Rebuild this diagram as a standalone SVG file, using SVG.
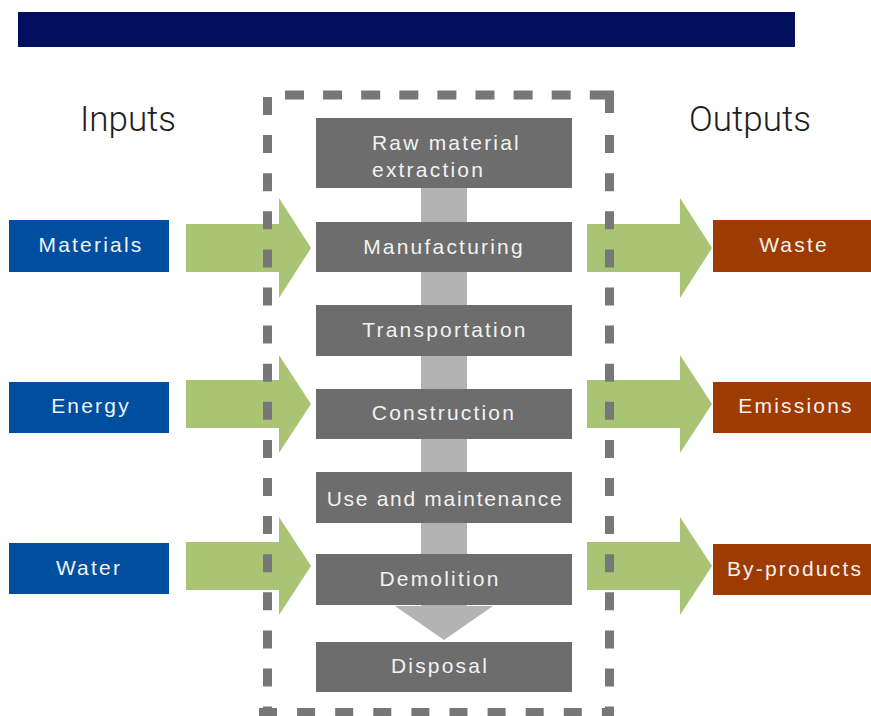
<svg xmlns="http://www.w3.org/2000/svg" width="871" height="716" viewBox="0 0 871 716">
  <style>
    .title { fill: #020F5E; }
    .heading { font-family: Roboto, "Liberation Sans", Arial, sans-serif; font-weight: 300; font-size: 35px; fill: #1E1E1E; text-anchor: middle; }
    .lbl { font-family: "Liberation Sans", Arial, sans-serif; font-size: 21px; fill: #F2F2F2; letter-spacing: 2.2px; text-anchor: middle; }
    .stage rect { fill: #6D6D6D; }
    .input rect { fill: #004E9F; }
    .output rect { fill: #9E3B00; }
    .flow { fill: #A8C474; }
    .spine { fill: #B3B3B3; }
    .frame { fill: none; stroke: #777777; stroke-width: 9; }
  </style>

  <rect class="title" x="18" y="12" width="777" height="35"/>

  <text class="heading" x="128" y="131">Inputs</text>
  <text class="heading" x="750" y="131">Outputs</text>

  <!-- lifecycle spine (behind stages) -->
  <g id="spine">
    <rect class="spine" x="421" y="186" width="46" height="422"/>
    <polygon class="spine" points="395,606 493,606 444,640"/>
  </g>

  <!-- connectors: input and output flow arrows -->
  <g id="connectors">
    <polygon class="flow" points="186,224 279,224 279,198 311,248 279,298 279,272 186,272"/>
    <polygon class="flow" points="186,380 279,380 279,355 311,404 279,453 279,428 186,428"/>
    <polygon class="flow" points="186,542 279,542 279,517 311,566 279,615 279,590 186,590"/>
    <polygon class="flow" points="587,224 680,224 680,198 712,248 680,298 680,272 587,272"/>
    <polygon class="flow" points="587,380 680,380 680,355 712,404 680,453 680,428 587,428"/>
    <polygon class="flow" points="587,542 680,542 680,517 712,566 680,615 680,590 587,590"/>
  </g>

  <!-- dashed system boundary (drawn over the flow arrows) -->
  <g id="boundary" class="frame">
    <line x1="285" y1="95" x2="590" y2="95" stroke-dasharray="19 19.1"/>
    <path d="M590,95 H609.5 V113" stroke-linejoin="miter"/>
    <line x1="267.5" y1="97" x2="267.5" y2="716" stroke-dasharray="18 20.1"/>
    <line x1="609.5" y1="135.1" x2="609.5" y2="716" stroke-dasharray="18 20.1"/>
    <line x1="259" y1="712.5" x2="614" y2="712.5" stroke-dasharray="18 20.1"/>
  </g>

  <!-- stages -->
  <g id="raw-material" class="stage">
    <rect x="316" y="118" width="256" height="70"/>
    <text class="lbl" x="372" y="150" style="text-anchor:start">Raw material</text>
    <text class="lbl" x="372" y="177" style="text-anchor:start">extraction</text>
  </g>
  <g id="manufacturing" class="stage">
    <rect x="316" y="222" width="256" height="50"/>
    <text class="lbl" x="444" y="254">Manufacturing</text>
  </g>
  <g id="transportation" class="stage">
    <rect x="316" y="305" width="256" height="51"/>
    <text class="lbl" x="445" y="337">Transportation</text>
  </g>
  <g id="construction" class="stage">
    <rect x="316" y="389" width="256" height="50"/>
    <text class="lbl" x="444" y="420">Construction</text>
  </g>
  <g id="use-maintenance" class="stage">
    <rect x="316" y="472" width="256" height="51"/>
    <text class="lbl" x="445" y="506" style="letter-spacing:1.7px">Use and maintenance</text>
  </g>
  <g id="demolition" class="stage">
    <rect x="316" y="554" width="256" height="51"/>
    <text class="lbl" x="440" y="586">Demolition</text>
  </g>
  <g id="disposal" class="stage">
    <rect x="316" y="642" width="256" height="50"/>
    <text class="lbl" x="440" y="673">Disposal</text>
  </g>

  <!-- inputs -->
  <g id="materials" class="input">
    <rect x="9" y="220" width="160" height="52"/>
    <text class="lbl" x="91" y="252">Materials</text>
  </g>
  <g id="energy" class="input">
    <rect x="9" y="382" width="160" height="51"/>
    <text class="lbl" x="91" y="413">Energy</text>
  </g>
  <g id="water" class="input">
    <rect x="9" y="543" width="160" height="51"/>
    <text class="lbl" x="89" y="575">Water</text>
  </g>

  <!-- outputs -->
  <g id="waste" class="output">
    <rect x="713" y="220" width="160" height="52"/>
    <text class="lbl" x="794" y="252">Waste</text>
  </g>
  <g id="emissions" class="output">
    <rect x="713" y="382" width="160" height="51"/>
    <text class="lbl" x="796" y="413">Emissions</text>
  </g>
  <g id="by-products" class="output">
    <rect x="713" y="544" width="160" height="51"/>
    <text class="lbl" x="795" y="576">By-products</text>
  </g>
</svg>
